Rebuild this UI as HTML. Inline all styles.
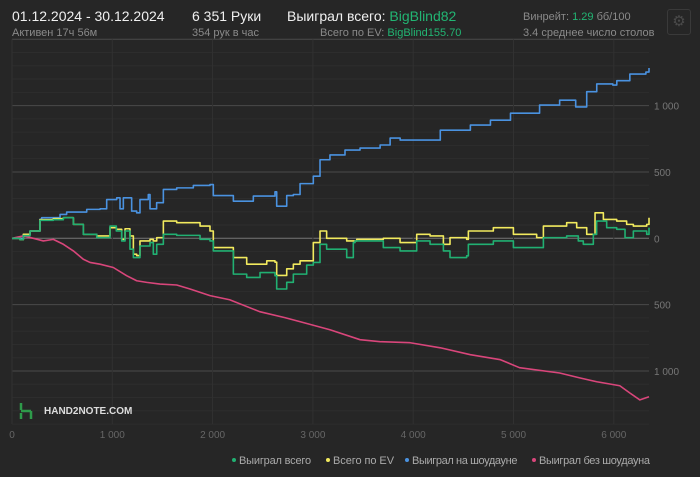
<!DOCTYPE html>
<html><head><meta charset="utf-8"><style>
body{margin:0;width:700px;height:477px;background:#262626;overflow:hidden;font-family:"Liberation Sans",sans-serif;color:#ddd;position:relative}
.t{position:absolute;white-space:nowrap}
.big{font-size:14px;color:#f0f0f0}
.sm{font-size:11px;color:#8a8a8a}
.g{color:#22b573}
</style></head><body>
<div class="t big" style="left:12px;top:8px">01.12.2024 - 30.12.2024</div>
<div class="t sm" style="left:12px;top:27px">Активен 17ч 56м</div>
<div class="t big" style="left:192px;top:8px">6 351 Руки</div>
<div class="t sm" style="left:192px;top:27px">354 рук в час</div>
<div class="t big" style="left:287px;top:8px">Выиграл всего: <span class="g">BigBlind82</span></div>
<div class="t sm" style="left:320px;top:27px">Всего по EV: <span class="g">BigBlind155.70</span></div>
<div class="t sm" style="left:523px;top:11px">Винрейт: <span class="g">1.29</span> бб/100</div>
<div class="t sm" style="left:523px;top:27px">3.4 среднее число столов</div>
<div class="t" style="left:667px;top:9px;width:22px;height:24px;border:1px solid #3a3a3a;border-radius:3px;color:#4a4a4a;font-size:15px;text-align:center;line-height:24px">⚙</div>
<svg id="ch" width="700" height="477" style="position:absolute;left:0;top:0"></svg>
<script>
const hGreen=[0,80,113,180,279,412,512,612,711,845,977,1040,1094,1127,1176,1210,1243,1276,1376,1409,1443,1509,1642,1875,1974,2007,2207,2340,2473,2622,2639,2739,2805,2938,3004,3071,3137,3337,3403,3420,3702,3869,4035,4168,4301,4367,4533,4550,4799,4999,5231,5298,5530,5646,5696,5796,5829,5929,6029,6112,6195,6328,6351];
const vGreen=[0,-10,20,55,135,140,155,105,30,5,92,55,-20,55,-82,-145,-145,-58,-32,-120,-45,30,22,-8,-20,-95,-270,-295,-258,-282,-382,-332,-270,-202,-182,-45,-82,-145,-32,-20,-70,-95,-20,-45,-95,-145,-132,-45,-20,-70,-70,5,18,-20,-45,30,130,80,68,5,55,30,80];
const hEV=[0,80,113,180,279,412,512,612,711,845,977,1040,1094,1127,1176,1210,1243,1276,1376,1409,1443,1509,1642,1875,1974,2007,2207,2340,2540,2622,2639,2739,2805,2872,3004,3071,3137,3337,3437,3702,3869,4035,4168,4301,4367,4533,4550,4799,4999,5231,5298,5530,5630,5730,5813,5896,6029,6128,6195,6328,6351];
const vEV=[0,-10,30,55,140,148,155,105,30,18,80,68,-8,72,18,-120,-130,-20,-8,-20,5,130,118,92,55,-70,-145,-195,-170,-180,-280,-230,-195,-170,-32,55,0,-20,-8,0,-32,30,18,-45,5,-8,55,80,30,5,92,118,80,30,192,142,130,105,92,105,155];
const hSD=[0,113,180,279,296,479,545,745,878,944,1044,1077,1110,1160,1193,1243,1276,1359,1376,1442,1509,1642,1808,1974,2007,2207,2406,2622,2639,2739,2805,2872,3004,3071,3170,3320,3470,3670,3770,3870,4070,4270,4370,4570,4770,4970,5160,5260,5460,5620,5730,5830,5990,6030,6160,6320,6351];
const vSD=[0,30,55,143,155,180,198,218,222,292,305,222,305,305,205,192,292,330,222,268,368,380,398,405,322,280,318,350,242,322,330,412,468,592,628,665,680,703,755,740,740,815,815,853,890,943,943,1004,1041,990,1105,1163,1155,1188,1238,1253,1283];
const hNSD=[0,113,213,312,412,512,612,711,778,878,1010,1143,1243,1343,1476,1642,1775,1974,2170,2470,2720,2870,3170,3470,3670,3970,4270,4570,4870,5060,5460,5660,5830,6060,6160,6260,6351];
const vNSD=[0,18,0,-20,-8,-45,-95,-158,-182,-195,-220,-282,-320,-332,-345,-352,-382,-432,-463,-553,-598,-628,-689,-764,-779,-787,-825,-877,-915,-975,-1015,-1052,-1081,-1111,-1166,-1218,-1194];
const xTicks=[0,1000,2000,3000,4000,5000,6000];
const xLabels=["0","1 000","2 000","3 000","4 000","5 000","6 000"];
const yTicks=[1000,500,0,-500,-1000];
const yLabels=["1 000","500","0","500","1 000"];
const NS='http://www.w3.org/2000/svg';
const svg=document.getElementById('ch');
const X=h=>12+h*0.1003, Y=v=>238.3-v*0.1327;
function mk(t,a){const e=document.createElementNS(NS,t);for(const k in a)e.setAttribute(k,a[k]);svg.appendChild(e);return e;}
for(let v=-1400;v<=1500;v+=100){const l=mk('line',{x1:12,x2:649,y1:Y(v),y2:Y(v),stroke:v%500===0?(v===0?'#777':'#4a4a4a'):'#2d2d2d','stroke-width':1});

}
xTicks.forEach((t,i)=>{const l=mk('line',{x1:X(t),x2:X(t),y1:Y(1500),y2:Y(-1400),stroke:'#313131'});


const tx=mk('text',{x:X(t),y:438,fill:'#666','font-size':10,'text-anchor':'middle'});tx.textContent=xLabels[i];

});
yTicks.forEach((t,i)=>{const tx=mk('text',{x:654,y:Y(t)+4,fill:'#777','font-size':10});tx.textContent=yLabels[i];

});
function series(hs,vs,c,name,step){let pts=[];hs.forEach((h,i)=>{if(step&&i>0)pts.push(X(h)+','+Y(vs[i-1]));pts.push(X(h)+','+Y(vs[i]));});
const p=mk('polyline',{points:pts.join(' '),fill:'none',stroke:c,'stroke-width':1.6,'stroke-linejoin':'round'});

}
series(hNSD,vNSD,'#d9467b','line-no-showdown',false);
series(hSD,vSD,'#4a92e0','line-showdown',true);
series(hEV,vEV,'#f2ea5e','line-ev',true);
series(hGreen,vGreen,'#21b072','line-total-won',true);
const leg=[['Выиграл всего','#21b072',234],['Всего по EV','#f2ea5e',328],['Выиграл на шоудауне','#4a92e0',407],['Выиграл без шоудауна','#d9467b',534]];
leg.forEach(l=>{const c=mk('circle',{cx:l[2],cy:460,r:2,fill:l[1]});


const t=mk('text',{x:l[2]+5,y:464,fill:'#aaa','font-size':11,'textLength':l[0].length*5.55});t.textContent=l[0];

});
const lg=mk('path',{d:'M21 403v7M21 411h10M31 411v8M21 413v6',stroke:'#2e9a4a','stroke-width':2.5,fill:'none'});


const lt=mk('text',{x:44,y:414,fill:'#ddd','font-size':10,'font-weight':'bold'});lt.textContent='HAND2NOTE.COM';


</script>
</body></html>
